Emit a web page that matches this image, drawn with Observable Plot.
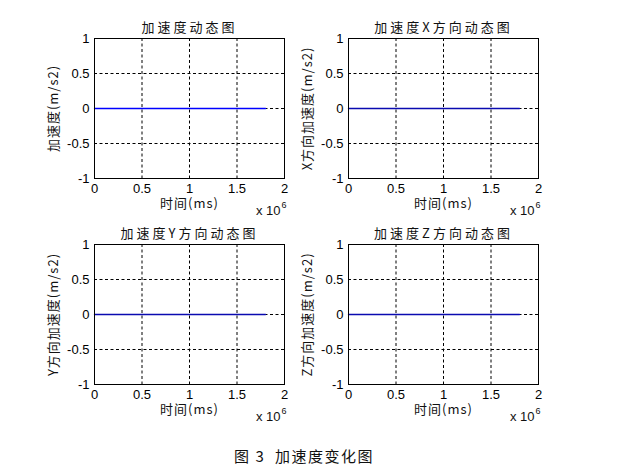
<!DOCTYPE html>
<html>
<head>
<meta charset="utf-8">
<script src="https://cdn.jsdelivr.net/npm/d3@7"></script>
<script src="https://cdn.jsdelivr.net/npm/@observablehq/plot@0.6"></script>
<style>
  html, body { margin: 0; padding: 0; background: white; }
  #fig { position: relative; width: 625px; height: 476px; background: white; overflow: hidden; }
  .cell { position: absolute; }
  #caption { position: absolute; left: 0; width: 608px; top: 445px; text-align: center;
    font-family: "Noto Sans CJK SC", sans-serif; font-size: 15px; letter-spacing: 1.5px; color: #111; }
</style>
</head>
<body>
<div id="fig"><div id="caption">图 3&nbsp; 加速度变化图</div></div>
<script>
// ---- data ----
const titles = ["加速度动态图", "加速度X方向动态图", "加速度Y方向动态图", "加速度Z方向动态图"];
const yLabels = ["加速度(m/s2)", "X方向加速度(m/s2)", "Y方向加速度(m/s2)", "Z方向加速度(m/s2)"];
const xLabel = "时间(ms)";
const xTicks = [0, 0.5e6, 1e6, 1.5e6, 2e6];
const yTicks = [-1, -0.5, 0, 0.5, 1];
const xGrid = [0.5e6, 1e6, 1.5e6];
const yGrid = [-0.5, 0, 0.5];
const time = [0, 1.8e6];
const accTotal = [0, 0];
const accX = [0, 0];
const accY = [0, 0];
const accZ = [0, 0];
const series = [accTotal, accX, accY, accZ];
const lineColors = ["#0000ff", "#0a0ab0", "#0a0ab0", "#0a0ab0"];
const positions = [[0, 0], [254, 0], [0, 206], [254, 206]];

const cjk = "'Noto Sans CJK SC', sans-serif";
const latin = "Arial, 'Liberation Sans', sans-serif";

function makePlot(i) {
  const data = time.map((t, j) => ({t, v: series[i][j]}));
  const svg = Plot.plot({
    width: 312, height: 220,
    marginLeft: 94, marginRight: 28, marginTop: 38, marginBottom: 42,
    style: {background: "transparent", fontFamily: latin, fontSize: "13px", color: "black", overflow: "visible"},
    x: {domain: [0, 2e6]},
    y: {domain: [-1, 1]},
    marks: [
      Plot.ruleX(xGrid, {stroke: "black", strokeWidth: 1, strokeDasharray: "3,2.5"}),
      Plot.ruleY(yGrid, {stroke: "black", strokeWidth: 1, strokeDasharray: "3,2.5"}),
      Plot.line(data, {x: "t", y: "v", stroke: lineColors[i], strokeWidth: 1.3}),
      Plot.axisX({ticks: xTicks, tickFormat: d => String(d / 1e6), tickSize: 0, tickPadding: 5, label: null, fontSize: 13, fontFamily: latin}),
      Plot.axisY({ticks: yTicks, tickFormat: d => String(d), tickSize: 0, tickPadding: 5, label: null, fontSize: 13, fontFamily: latin}),
      Plot.frame({stroke: "black", strokeWidth: 1}),
      Plot.text([titles[i]], {frameAnchor: "top", dy: -16, fontFamily: cjk, fontSize: 13, fill: "#111", text: d => d}),
      Plot.text([xLabel], {frameAnchor: "bottom", dy: 29, fontFamily: cjk, fontSize: 13, fill: "#111", text: d => d}),
      Plot.text(["x 10"], {frameAnchor: "bottom-right", dx: -4, dy: 36, textAnchor: "end", fontFamily: latin, fontSize: 13, fill: "#111", text: d => d}),
      Plot.text(["6"], {frameAnchor: "bottom-right", dx: -3, dy: 29, textAnchor: "start", fontFamily: latin, fontSize: 9, fill: "#111", text: d => d}),
      Plot.text([yLabels[i]], {frameAnchor: "left", dx: -41, rotate: -90, textAnchor: "middle", fontFamily: cjk, fontSize: 13, fill: "#111", text: d => d})
    ]
  });
  const sel = d3.select(svg).selectAll("text");
  sel.filter(function () { return this.textContent === titles[i]; }).style("letter-spacing", "3px");
  sel.filter(function () { return this.textContent === xLabel; }).style("letter-spacing", "1px");
  sel.filter(function () { return this.textContent === yLabels[i]; }).style("letter-spacing", "1px");
  return svg;
}

const fig = document.getElementById("fig");
positions.forEach(([left, top], i) => {
  const div = document.createElement("div");
  div.className = "cell";
  div.style.left = left + "px";
  div.style.top = top + "px";
  div.appendChild(makePlot(i));
  fig.appendChild(div);
});
</script>
</body>
</html>
